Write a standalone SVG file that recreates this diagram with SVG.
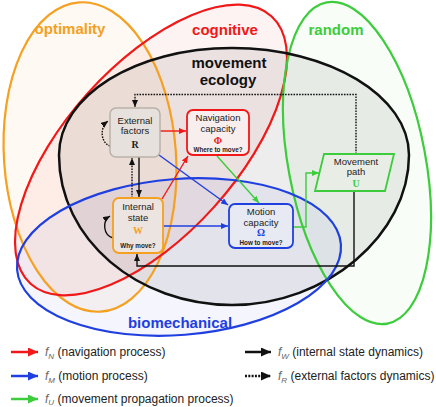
<svg xmlns="http://www.w3.org/2000/svg" width="436" height="407" viewBox="0 0 436 407">
<defs>
<style>
.reg{stroke-width:2.2}
.lbl{font-family:"Liberation Sans",Arial,sans-serif;font-weight:bold;font-size:15px;text-anchor:middle}
.nt{font-family:"Liberation Sans",Arial,sans-serif;font-size:9.5px;fill:#222;text-anchor:middle}
.sm{font-family:"Liberation Sans",Arial,sans-serif;font-size:6.3px;font-weight:bold;fill:#222;text-anchor:middle}
.sym{font-family:"Liberation Serif","Times New Roman",serif;font-size:10px;font-weight:bold;text-anchor:middle}
.lg{font-family:"Liberation Sans",Arial,sans-serif;font-size:12px;fill:#222}
.fi{font-style:italic;fill:#666}
.c{fill:none;stroke-width:1.4}
.dot{stroke-dasharray:1.6,1.2}
</style>
<marker id="ar" markerUnits="userSpaceOnUse" markerWidth="7" markerHeight="6" refX="7" refY="3" orient="auto"><path d="M0,0 L7,3 L0,6 z" fill="#f01818"/></marker>
<marker id="ab" markerUnits="userSpaceOnUse" markerWidth="7" markerHeight="6" refX="7" refY="3" orient="auto"><path d="M0,0 L7,3 L0,6 z" fill="#1f3fe0"/></marker>
<marker id="ag" markerUnits="userSpaceOnUse" markerWidth="7" markerHeight="6" refX="7" refY="3" orient="auto"><path d="M0,0 L7,3 L0,6 z" fill="#3ccc3c"/></marker>
<marker id="ak" markerUnits="userSpaceOnUse" markerWidth="7" markerHeight="6" refX="7" refY="3" orient="auto"><path d="M0,0 L7,3 L0,6 z" fill="#111"/></marker>
<marker id="Lr" markerUnits="userSpaceOnUse" markerWidth="10" markerHeight="9" refX="10" refY="4.5" orient="auto"><path d="M0,0 L10,4.5 L0,9 z" fill="#f01818"/></marker>
<marker id="Lb" markerUnits="userSpaceOnUse" markerWidth="10" markerHeight="9" refX="10" refY="4.5" orient="auto"><path d="M0,0 L10,4.5 L0,9 z" fill="#1f3fe0"/></marker>
<marker id="Lg" markerUnits="userSpaceOnUse" markerWidth="10" markerHeight="9" refX="10" refY="4.5" orient="auto"><path d="M0,0 L10,4.5 L0,9 z" fill="#3ccc3c"/></marker>
<marker id="Lk" markerUnits="userSpaceOnUse" markerWidth="10" markerHeight="9" refX="10" refY="4.5" orient="auto"><path d="M0,0 L10,4.5 L0,9 z" fill="#111"/></marker>
</defs>
<rect width="436" height="407" fill="#fff"/>

<g id="region-fills" stroke="none">
<ellipse cx="90" cy="157" rx="86" ry="155" transform="rotate(-4 90 157)" fill="#f5a020" fill-opacity="0.06"/>
<ellipse cx="151" cy="150" rx="180" ry="85" transform="rotate(-48 151 150)" fill="#f01818" fill-opacity="0.05"/>
<ellipse cx="357" cy="163" rx="68.6" ry="163.4" transform="rotate(-10.7 357 163)" fill="#3ccc3c" fill-opacity="0.035"/>
<path d="M59,155 C59,96 135,48 232,48 C329,48 409,96 409,155 C409,235 326,305 232,305 C138,305 59,240 59,155 Z" fill="#000" fill-opacity="0.07"/>
<ellipse cx="179" cy="257" rx="162.4" ry="78" transform="rotate(-4.5 179 257)" fill="#1f3fe0" fill-opacity="0.05"/>
</g>

<g id="optimality">
<ellipse cx="90" cy="157" rx="86" ry="155" transform="rotate(-4 90 157)" fill="none" stroke="#f5a020" class="reg"/>
<text x="70" y="34" class="lbl" fill="#f5a020">optimality</text>
</g>
<g id="cognitive">
<ellipse cx="151" cy="150" rx="180" ry="85" transform="rotate(-48 151 150)" fill="none" stroke="#f01818" class="reg"/>
<text x="225" y="35" class="lbl" fill="#f01818">cognitive</text>
</g>
<g id="random">
<ellipse cx="357" cy="163" rx="68.6" ry="163.4" transform="rotate(-10.7 357 163)" fill="none" stroke="#3ccc3c" class="reg"/>
<text x="336" y="35" class="lbl" fill="#3ccc3c">random</text>
</g>
<g id="movement-ecology">
<path d="M59,155 C59,96 135,48 232,48 C329,48 409,96 409,155 C409,235 326,305 232,305 C138,305 59,240 59,155 Z" fill="none" stroke="#111" stroke-width="2.5"/>
<text x="229" y="68" class="lbl" fill="#111">movement</text>
<text x="228" y="85" class="lbl" fill="#111">ecology</text>
</g>
<g id="biomechanical">
<ellipse cx="179" cy="257" rx="162.4" ry="78" transform="rotate(-4.5 179 257)" fill="none" stroke="#1f3fe0" class="reg"/>
<text x="180" y="328" class="lbl" fill="#1f3fe0">biomechanical</text>
</g>

<g id="connectors">
<path class="c dot" stroke="#111" d="M356,154 V94.5 H135 V107" marker-end="url(#ak)"/>
<path class="c dot" stroke="#111" d="M110,146 C101,143 99,128 108,121" marker-end="url(#ak)"/>
<path class="c dot" stroke="#111" d="M132,198 V158" marker-end="url(#ak)"/>
<path class="c" stroke="#111" d="M139,157 V197" marker-end="url(#ak)"/>
<path class="c" stroke="#111" d="M113,238 C103,235 102,221 110,216" marker-end="url(#ak)"/>
<path class="c" stroke="#111" d="M354,191 V266 H137 V254" marker-end="url(#ak)"/>
<path class="c" stroke="#f01818" d="M160,131 H186" marker-end="url(#ar)"/>
<path class="c" stroke="#f01818" d="M162,199 L188,156" marker-end="url(#ar)"/>
<path class="c" stroke="#1f3fe0" d="M159,155 L228,205" marker-end="url(#ab)"/>
<path class="c" stroke="#1f3fe0" d="M163,226 H228" marker-end="url(#ab)"/>
<path class="c" stroke="#3ccc3c" d="M217,156 L259,203" marker-end="url(#ag)"/>
<path class="c" stroke="#3ccc3c" d="M293,227 H306 V173 H319" marker-end="url(#ag)"/>
</g>

<g id="external-factors">
<rect x="110" y="108" width="50" height="49" rx="6" fill="#e6e1dc" stroke="#bab1a9" stroke-width="1.5"/>
<text x="135" y="124" class="nt">External</text>
<text x="135" y="134" class="nt">factors</text>
<text x="135" y="148" class="sym" font-weight="normal" fill="#222">R</text>
</g>
<g id="navigation-capacity">
<rect x="187" y="110" width="62" height="45" rx="6" fill="#f9eeee" stroke="#f01818" stroke-width="1.8"/>
<text x="218" y="121" class="nt">Navigation</text>
<text x="218" y="132" class="nt">capacity</text>
<text x="218" y="144" class="sym" fill="#f01818">Φ</text>
<text x="218" y="152" class="sm">Where to move?</text>
</g>
<g id="internal-state">
<rect x="113" y="198" width="50" height="55" rx="6" fill="#ece4e0" stroke="#f5a020" stroke-width="1.8"/>
<text x="138" y="210" class="nt">Internal</text>
<text x="138" y="220.5" class="nt">state</text>
<text x="138" y="234" class="sym" fill="#f5a020">W</text>
<text x="138" y="247.5" class="sm">Why move?</text>
</g>
<g id="motion-capacity">
<rect x="229" y="204" width="64" height="44" rx="6" fill="#e7e9f3" stroke="#1f3fe0" stroke-width="1.8"/>
<text x="261" y="215" class="nt">Motion</text>
<text x="261" y="225.5" class="nt">capacity</text>
<text x="261" y="236" class="sym" fill="#1f3fe0">Ω</text>
<text x="261" y="245" class="sm">How to move?</text>
</g>
<g id="movement-path">
<polygon points="324,154 394,154 385,191 315,191" fill="#e8ede6" stroke="#3ccc3c" stroke-width="1.8"/>
<text x="356" y="165" class="nt">Movement</text>
<text x="356" y="175" class="nt">path</text>
<text x="356" y="187" class="sym" fill="#3ccc3c">U</text>
</g>

<g id="legend">
<path d="M11,352 H38" stroke="#f01818" stroke-width="2.5" marker-end="url(#Lr)"/>
<text x="45" y="356" class="lg"><tspan class="fi">f</tspan><tspan class="fi" font-size="8" dy="2.5">N</tspan><tspan dy="-2.5"> (navigation process)</tspan></text>
<path d="M11,376 H38" stroke="#1f3fe0" stroke-width="2.5" marker-end="url(#Lb)"/>
<text x="45" y="380" class="lg"><tspan class="fi">f</tspan><tspan class="fi" font-size="8" dy="2.5">M</tspan><tspan dy="-2.5"> (motion process)</tspan></text>
<path d="M11,399 H38" stroke="#3ccc3c" stroke-width="2.5" marker-end="url(#Lg)"/>
<text x="45" y="402.5" class="lg"><tspan class="fi">f</tspan><tspan class="fi" font-size="8" dy="2">U</tspan><tspan dy="-2"> (movement propagation process)</tspan></text>
<path d="M245,352 H271" stroke="#111" stroke-width="2.5" marker-end="url(#Lk)"/>
<text x="278" y="356" class="lg"><tspan class="fi">f</tspan><tspan class="fi" font-size="8" dy="2.5">W</tspan><tspan dy="-2.5"> (internal state dynamics)</tspan></text>
<path d="M245,376 H271" stroke="#111" stroke-width="2.5" stroke-dasharray="2,1.3" marker-end="url(#Lk)"/>
<text x="278" y="380" class="lg"><tspan class="fi">f</tspan><tspan class="fi" font-size="8" dy="2.5">R</tspan><tspan dy="-2.5"> (external factors dynamics)</tspan></text>
</g>
</svg>
